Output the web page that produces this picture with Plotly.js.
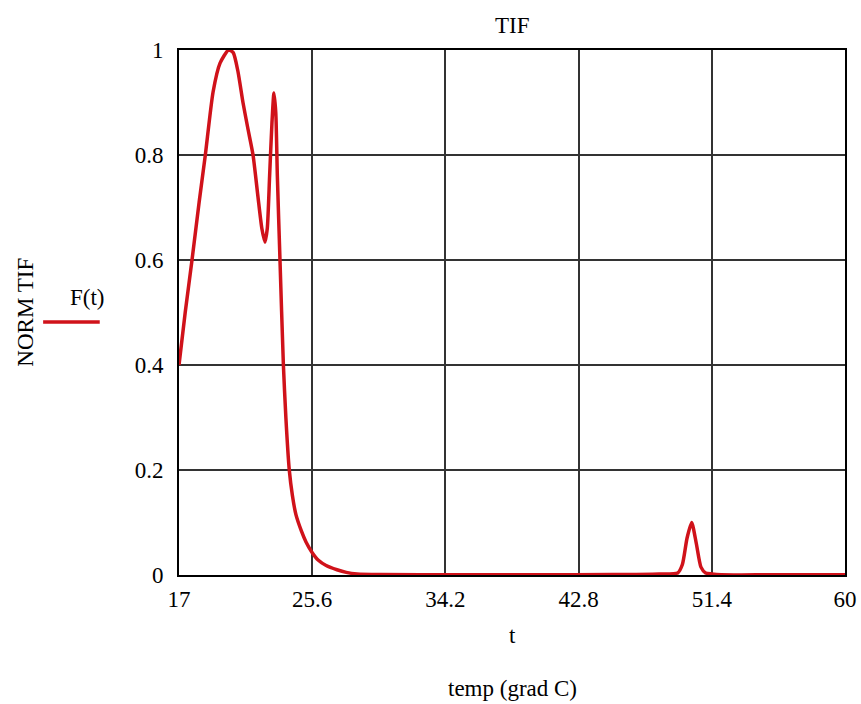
<!DOCTYPE html>
<html>
<head>
<meta charset="utf-8">
<script src="https://cdn.plot.ly/plotly-3.0.1.min.js"></script>
<style>html,body{margin:0;padding:0;background:#fff;}#chart{width:861px;height:704px;}</style>
</head>
<body>
<div id="chart"></div>
<script>
const tempValues = [17, 17.4, 17.84, 18.3, 18.7, 19.2, 19.65, 20.2, 20.5, 20.8, 21.13, 21.45, 21.78, 22.1, 22.35, 22.55, 22.7, 22.85, 23.0, 23.13, 23.25, 23.35, 23.52, 23.74, 23.9, 24.12, 24.32, 24.55, 24.9, 25.2, 25.57, 26.0, 26.5, 27.2, 27.8, 28.5, 30, 35, 40, 45, 48, 49.2, 49.5, 49.8, 50.1, 50.4, 50.7, 51.0, 51.4, 52, 55, 60];
const normTif = [0.40, 0.50, 0.60, 0.71, 0.80, 0.92, 0.975, 1.00, 0.995, 0.96, 0.90, 0.85, 0.80, 0.72, 0.66, 0.634, 0.66, 0.76, 0.86, 0.918, 0.88, 0.76, 0.60, 0.40, 0.30, 0.20, 0.152, 0.115, 0.084, 0.063, 0.044, 0.028, 0.018, 0.01, 0.005, 0.002, 0.0008, 0.0005, 0.0005, 0.0008, 0.002, 0.004, 0.02, 0.07, 0.10, 0.06, 0.015, 0.004, 0.002, 0.0005, 0.0003, 0.0003];
const xTicks = [17, 25.6, 34.2, 42.8, 51.4, 60];
const xTickLabels = ["17", "25.6", "34.2", "42.8", "51.4", "60"];
const yTicks = [0, 0.2, 0.4, 0.6, 0.8, 1];
const yTickLabels = ["0", "0.2", "0.4", "0.6", "0.8", "1"];

const serif = "'Liberation Serif', 'Times New Roman', 'DejaVu Serif', serif";
const fs = 23;
const trace = {
  x: tempValues, y: normTif, type: "scatter", mode: "lines",
  line: {color: "#d0121a", width: 3.5, shape: "spline", smoothing: 0.6},
  name: "F(t)", showlegend: false
};
const layout = {
  width: 861, height: 704,
  margin: {l: 179, r: 16, t: 50, b: 129},
  paper_bgcolor: "#ffffff", plot_bgcolor: "#ffffff",
  showlegend: false,
  font: {family: serif, size: fs, color: "#000"},
  xaxis: {
    range: [17, 60], tickvals: xTicks, ticktext: xTickLabels,
    showgrid: true, gridcolor: "#333", gridwidth: 2,
    showline: true, mirror: true, linecolor: "#000", linewidth: 2,
    zeroline: false, ticks: "", ticklabelstandoff: 2,
    tickfont: {family: serif, size: fs, color: "#000"}
  },
  yaxis: {
    range: [0, 1], tickvals: yTicks, ticktext: yTickLabels,
    showgrid: true, gridcolor: "#333", gridwidth: 2,
    showline: true, mirror: true, linecolor: "#000", linewidth: 2,
    zeroline: false, ticks: "", ticklabelstandoff: 9,
    tickfont: {family: serif, size: fs, color: "#000"}
  },
  annotations: [
    {text: "TIF", xref: "paper", yref: "paper", x: 0.5, y: 1, yshift: 25, showarrow: false,
     font: {family: serif, size: fs}, xanchor: "center", yanchor: "middle"},
    {text: "t", xref: "paper", yref: "paper", x: 0.5, y: 0, yshift: -60, showarrow: false,
     font: {family: serif, size: fs}, xanchor: "center", yanchor: "middle"},
    {text: "temp (grad C)", xref: "paper", yref: "paper", x: 0.5, y: 0, yshift: -113, showarrow: false,
     font: {family: serif, size: fs}, xanchor: "center", yanchor: "middle"},
    {text: "NORM TIF", xref: "paper", yref: "paper", x: -0.231, y: 0.5, textangle: -90, showarrow: false,
     font: {family: serif, size: fs}, xanchor: "center", yanchor: "middle"},
    {text: "F(t)", xref: "paper", yref: "paper", x: -0.137, y: 0.528, showarrow: false,
     font: {family: serif, size: fs}, xanchor: "center", yanchor: "middle"}
  ],
  shapes: [
    {type: "line", xref: "paper", yref: "paper", x0: -0.204, x1: -0.119, y0: 0.482, y1: 0.482,
     line: {color: "#d0121a", width: 3.5}}
  ]
};
Plotly.newPlot("chart", [trace], layout, {displayModeBar: false, staticPlot: true});
</script>
</body>
</html>
